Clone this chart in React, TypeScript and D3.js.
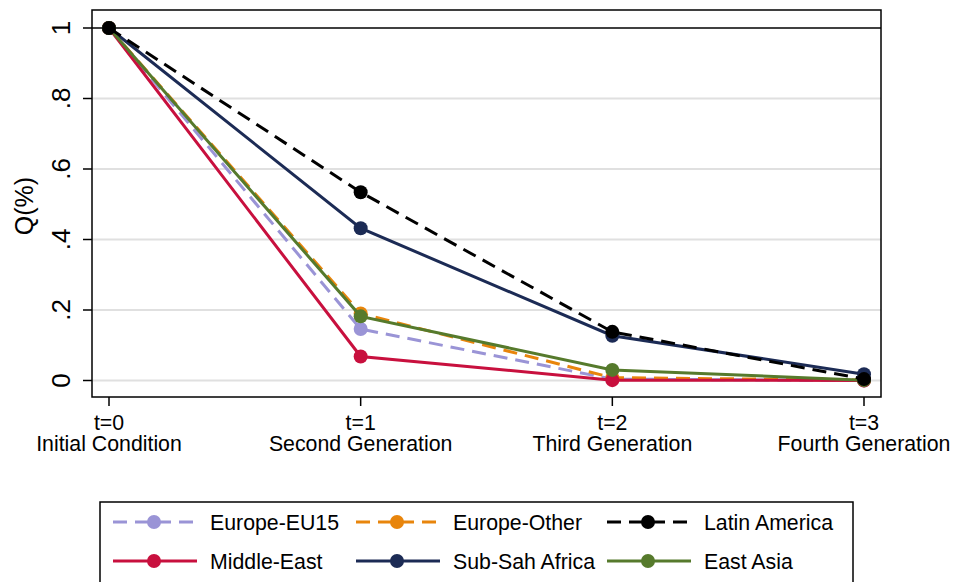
import React from "react";
import * as d3 from "d3";

const periods = [0, 1, 2, 3];
const tickTop = ["t=0", "t=1", "t=2", "t=3"];
const tickBottom = ["Initial Condition", "Second Generation", "Third Generation", "Fourth Generation"];
const yTicks = [0, 0.2, 0.4, 0.6, 0.8, 1];
const yTickLabels = ["0", ".2", ".4", ".6", ".8", "1"];

const euEU15 = [1, 0.146, 0.004, 0];
const euOther = [1, 0.19, 0.008, 0.001];
const latinAm = [1, 0.534, 0.138, 0.004];
const middleEast = [1, 0.068, 0.001, 0];
const subSah = [1, 0.432, 0.127, 0.018];
const eastAsia = [1, 0.182, 0.03, 0.001];

const seriesNames = ["Europe-EU15", "Europe-Other", "Latin America", "Middle-East", "Sub-Sah Africa", "East Asia"];
const seriesColors = ["#9a94d6", "#e8850c", "#000000", "#c8103e", "#1c2b55", "#567a2c"];
const seriesDashed = [true, true, true, false, false, false];
const seriesValues = [euEU15, euOther, latinAm, middleEast, subSah, eastAsia];
const drawOrder = [0, 1, 3, 4, 5, 2];

const W = 953;
const H = 582;
const box = { x0: 92, x1: 881, y0: 10, y1: 397 };
const font = "'Liberation Sans', Arial, Helvetica, sans-serif";
const fs = 21.3;

export default function App() {
  const x = d3.scaleLinear().domain([0, 3]).range([109, 864]);
  const y = d3.scaleLinear().domain([0, 1]).range([380.5, 28]);
  const line = d3
    .line<number>()
    .x((_, i) => x(periods[i]))
    .y((d) => y(d));

  const legendCols = [113, 356, 607];
  const legendRows = [522, 561];

  return (
    <div style={{ position: "absolute", left: 0, top: 0 }}>
      <svg width={W} height={H} style={{ display: "block", background: "#fff" }} fontFamily={font}>
        <rect x={0} y={0} width={W} height={H} fill="#fff" />
        {yTicks.map((t, i) => (
          <line
            key={"g" + i}
            x1={box.x0}
            x2={box.x1}
            y1={y(t)}
            y2={y(t)}
            stroke={t === 1 ? "#000" : "#e0e0e0"}
            strokeWidth={t === 1 ? 1.5 : 2}
          />
        ))}
        {yTicks.map((t, i) => (
          <g key={"yt" + i}>
            <line x1={83} x2={box.x0} y1={y(t)} y2={y(t)} stroke="#000" strokeWidth={1.5} />
            <text
              transform={`translate(69.5,${y(t)}) rotate(-90)`}
              textAnchor="middle"
              fontSize={26}
              fill="#000"
            >
              {yTickLabels[i]}
            </text>
          </g>
        ))}
        <text transform="translate(33,206) rotate(-90)" textAnchor="middle" fontSize={25} fill="#000">
          Q(%)
        </text>
        {periods.map((p, i) => (
          <g key={"xt" + i}>
            <line x1={x(p)} x2={x(p)} y1={box.y1} y2={406} stroke="#000" strokeWidth={1.5} />
            <text x={x(p)} y={429.5} textAnchor="middle" fontSize={fs} fill="#000">
              {tickTop[i]}
            </text>
            <text x={x(p)} y={451} textAnchor="middle" fontSize={fs} fill="#000">
              {tickBottom[i]}
            </text>
          </g>
        ))}
        {drawOrder.map((s) => (
          <g key={"s" + s}>
            <path
              d={line(seriesValues[s]) || ""}
              fill="none"
              stroke={seriesColors[s]}
              strokeWidth={3}
              strokeDasharray={seriesDashed[s] ? "14 8" : undefined}
            />
            {seriesValues[s].map((v, i) => (
              <circle key={i} cx={x(periods[i])} cy={y(v)} r={7} fill={seriesColors[s]} />
            ))}
          </g>
        ))}
        <rect
          x={box.x0}
          y={box.y0}
          width={box.x1 - box.x0}
          height={box.y1 - box.y0}
          fill="none"
          stroke="#000"
          strokeWidth={1.5}
        />
        <rect x={100} y={502} width={753} height={110} fill="#fff" stroke="#000" strokeWidth={1.5} />
        {seriesNames.map((n, i) => {
          const cx = legendCols[i % 3];
          const cy = legendRows[Math.floor(i / 3)];
          return (
            <g key={"l" + i}>
              <line
                x1={cx}
                x2={cx + 84}
                y1={cy}
                y2={cy}
                stroke={seriesColors[i]}
                strokeWidth={3}
                strokeDasharray={seriesDashed[i] ? "14 8" : undefined}
              />
              <circle cx={cx + 41} cy={cy} r={7} fill={seriesColors[i]} />
              <text x={cx + 97} y={cy + 7.5} fontSize={fs} fill="#000">
                {n}
              </text>
            </g>
          );
        })}
      </svg>
    </div>
  );
}
